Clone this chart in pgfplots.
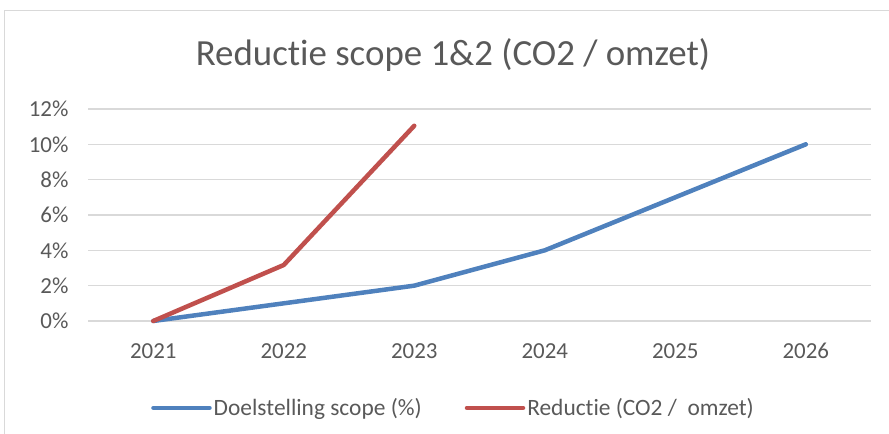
\documentclass[border=0pt]{standalone}
\usepackage{pgfplots}
\pgfplotsset{compat=1.18}
\usepackage{fontspec}
\setmainfont[Ligatures={NoCommon}]{Carlito}
\definecolor{txt}{HTML}{595959}
\definecolor{gridc}{HTML}{D9D9D9}
\definecolor{cblue}{HTML}{4F81BD}
\definecolor{cred}{HTML}{C0504D}
\begin{document}
\begin{tikzpicture}[x=1bp,y=1bp]
\useasboundingbox (0,0) rectangle (889,434);
\draw[gridc, line width=1bp] (4.5,0) -- (4.5,423.5) -- (889,423.5);
\node[text=txt, font=\fontsize{37}{40}\selectfont] at (453,379) {Reductie scope 1\&2 (CO2 / omzet)};
\begin{axis}[
  at={(88bp,113bp)}, anchor=south west, scale only axis,
  width=783bp, height=212bp,
  xmin=-0.5, xmax=5.5, ymin=0, ymax=12,
  xtick={0,1,2,3,4,5},
  xticklabels={2021,2022,2023,2024,2025,2026},
  ytick={0,2,4,6,8,10,12},
  yticklabel={\pgfmathprintnumber{\tick}\%},
  /pgf/number format/assume math mode=true,
  axis line style={draw=none},
  major tick length=0pt,
  ymajorgrids,
  grid style={gridc, line width=1.2bp},
  tick label style={text=txt, font=\fontsize{23}{26}\selectfont},
  xticklabel style={yshift=-19bp},
  yticklabel style={xshift=-16bp},
  clip=false,
  legend style={at={(0.0805,-0.41)}, anchor=west, draw=none, fill=none,
    inner sep=0pt, font=\fontsize{23.5}{26}\selectfont, text=txt,
    /tikz/every even column/.append style={column sep=41bp},
    nodes={inner sep=2bp}},
  legend columns=2,
  legend cell align=left,
  legend image code/.code={\draw[#1, line cap=round] (0bp,0bp) -- (56bp,0bp);},
]
\addplot[cblue, line width=4.5bp, line cap=round, line join=round] coordinates {
  (0,0) (1,1) (2,2) (3,4) (4,7) (5,10)};
\addlegendentry{Doelstelling scope (\%)}
\addplot[cred, line width=4.5bp, line cap=round, line join=round] coordinates {
  (0,0) (1,3.17) (2,11.05)};
\addlegendentry{Reductie (CO2 /\ \ omzet)}
\end{axis}
\end{tikzpicture}
\end{document}
